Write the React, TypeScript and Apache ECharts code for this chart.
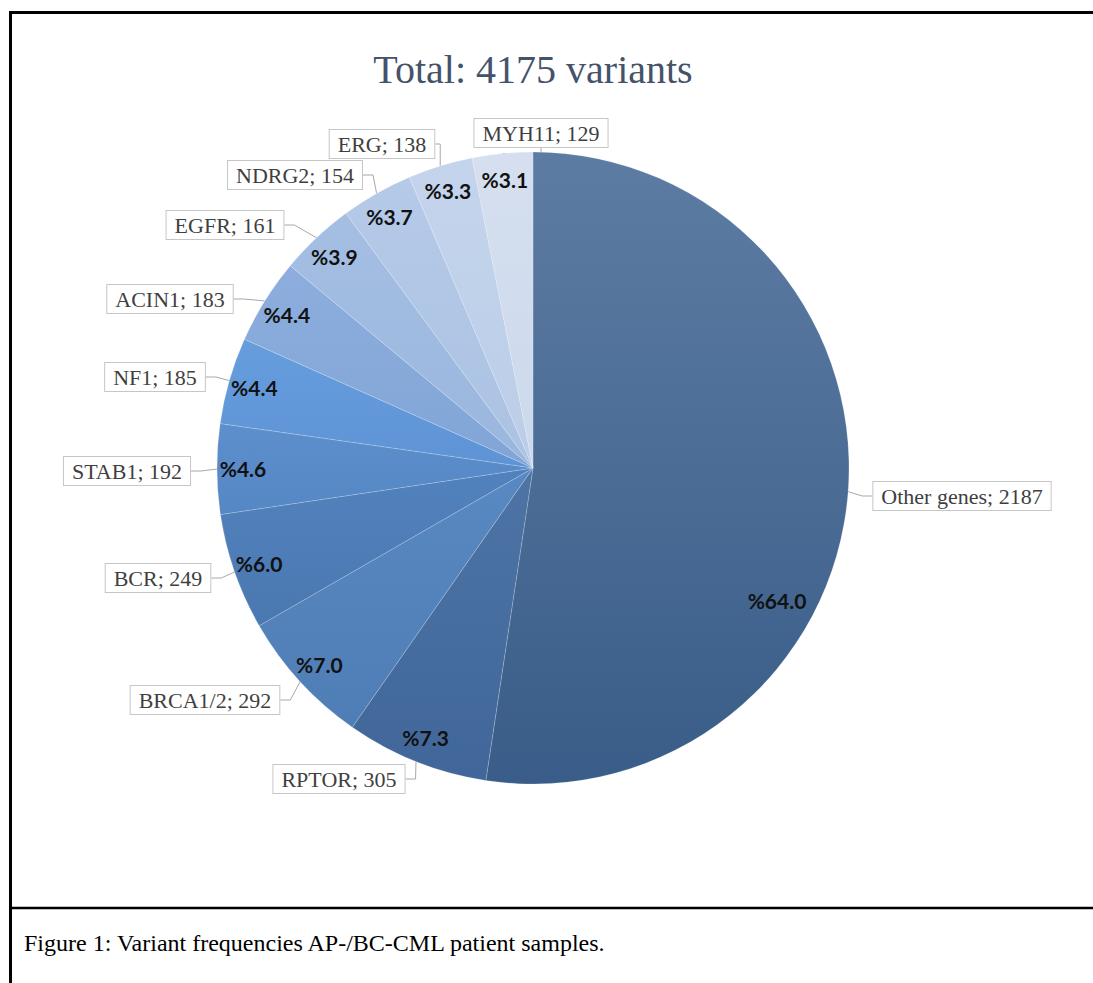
import React, { useEffect, useRef } from "react";
import * as echarts from "echarts";

const TITLE = "Total: 4175 variants";
const CAPTION = "Figure 1: Variant frequencies AP-/BC-CML patient samples.";
const genes = ["Other genes", "RPTOR", "BRCA1/2", "BCR", "STAB1", "NF1", "ACIN1", "EGFR", "NDRG2", "ERG", "MYH11"];
const counts = [2187, 305, 292, 249, 192, 185, 183, 161, 154, 138, 129];
const percentLabels = ["%64.0", "%7.3", "%7.0", "%6.0", "%4.6", "%4.4", "%4.4", "%3.9", "%3.7", "%3.3", "%3.1"];

// styling (colors per slice, top -> bottom of gradient)
const sliceTop = ["#5d7ca3", "#4d74a5", "#5989c2", "#5282bd", "#5d8fcd", "#669ddd", "#8daede", "#a5bfe3", "#b5cae8", "#c4d4ec", "#d5dfef"];
const sliceBottom = ["#395d88", "#41679a", "#4f7db5", "#4a78b1", "#5587c5", "#5e94d6", "#80a5d6", "#9ab6dd", "#abc2e3", "#bbcde8", "#ccd8ec"];

// layout: centres of the name-label boxes (px)
const labelCenters = [
  [962, 496], [339, 779], [205, 700], [158, 578], [127, 471], [155, 377],
  [170, 299], [225, 225], [295, 175], [382, 144], [541, 133],
];
const CX = 533;
const CY = 468;
const R = 316;

export default function App() {
  const ref = useRef<HTMLDivElement>(null);
  useEffect(() => {
    if (!ref.current) return;
    const chart = echarts.init(ref.current, null, { renderer: "svg" });
    const mainData = genes.map((g, i) => ({
      name: g,
      value: counts[i],
      itemStyle: {
        color: new echarts.graphic.LinearGradient(0, 0, 0, 1, [
          { offset: 0, color: sliceTop[i] },
          { offset: 1, color: sliceBottom[i] },
        ]),
      },
    }));
    const pctData = genes.map((g, i) => ({ name: g, value: counts[i] }));
    chart.setOption({
      animation: false,
      backgroundColor: "#ffffff",
      graphic: [
        { type: "line", shape: { x1: 9, y1: 12.5, x2: 1093, y2: 12.5 }, style: { stroke: "#000", lineWidth: 3 } },
        { type: "line", shape: { x1: 10.5, y1: 11, x2: 10.5, y2: 983 }, style: { stroke: "#000", lineWidth: 3 } },
        { type: "line", shape: { x1: 9, y1: 908, x2: 1093, y2: 908 }, style: { stroke: "#000", lineWidth: 2.5 } },
        {
          type: "text", x: CX, y: 69,
          style: { text: TITLE, fill: "#44536a", font: '40px "Liberation Serif", serif', textAlign: "center", textVerticalAlign: "middle" },
        },
        {
          type: "text", x: 24, y: 943,
          style: { text: CAPTION, fill: "#000", font: '24px "Liberation Serif", serif', textAlign: "left", textVerticalAlign: "middle" },
        },
      ],
      series: [
        {
          type: "pie",
          center: [CX, CY],
          radius: [0, R],
          startAngle: 90,
          clockwise: true,
          avoidLabelOverlap: false,
          silent: true,
          data: mainData,
          itemStyle: { borderColor: "rgba(255,255,255,0.3)", borderWidth: 0.6 },
          label: {
            show: true,
            position: "outside",
            formatter: (p: any) => `${p.name}; ${p.value}`,
            fontFamily: '"Liberation Serif", serif',
            fontSize: 22,
            color: "#3f3f3f",
            backgroundColor: "#ffffff",
            borderColor: "#c6c6c6",
            borderWidth: 1,
            padding: [3, 8, 3, 8],
          },
          labelLine: { show: true, length: 10, length2: 10, lineStyle: { color: "#a8a8a8", width: 1 } },
          labelLayout: (p: any) => {
            const c = labelCenters[p.dataIndex];
            return { x: c[0], y: c[1], align: "center", verticalAlign: "middle" };
          },
        },
        {
          type: "pie",
          center: [CX, CY],
          radius: [258, R],
          startAngle: 90,
          clockwise: true,
          avoidLabelOverlap: false,
          silent: true,
          z: 5,
          data: pctData,
          itemStyle: { color: "rgba(0,0,0,0)" },
          label: {
            show: true,
            position: "inside",
            formatter: (p: any) => percentLabels[p.dataIndex],
            fontFamily: "Lato, sans-serif",
            fontWeight: "bold",
            fontSize: 21,
            color: "#111111",
          },
          labelLine: { show: false },
          labelLayout: (p: any) => (p.dataIndex === 0 ? { x: 777, y: 600, align: "center", verticalAlign: "middle" } : {}),
        },
      ],
    });
    return () => chart.dispose();
  }, []);
  return (
    <div
      ref={ref}
      style={{ position: "fixed", left: 0, top: 0, width: 1093, height: 983, background: "#fff" }}
    />
  );
}
